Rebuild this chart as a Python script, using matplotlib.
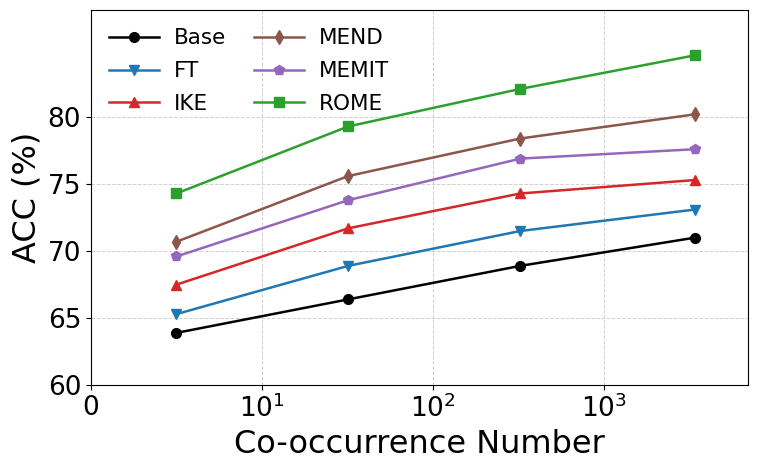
import numpy as np
import matplotlib
matplotlib.use("Agg")
import matplotlib.pyplot as plt

co_occurrence = [5, 32, 325, 3400]

acc_base = [63.9, 66.4, 68.9, 71.0]
acc_ft = [65.3, 68.9, 71.5, 73.1]
acc_ike = [67.5, 71.7, 74.3, 75.3]
acc_mend = [70.7, 75.6, 78.4, 80.2]
acc_memit = [69.6, 73.8, 76.9, 77.6]
acc_rome = [74.3, 79.3, 82.1, 84.6]

yticks = [60, 65, 70, 75, 80]

fig = plt.figure(figsize=(7.58, 4.68), dpi=100)
ax = fig.add_axes([0.12, 0.177, 0.867, 0.802])

series = [
    ("Base", acc_base, "black", "o"),
    ("FT", acc_ft, "tab:blue", "v"),
    ("IKE", acc_ike, "tab:red", "^"),
    ("MEND", acc_mend, "tab:brown", "d"),
    ("MEMIT", acc_memit, "tab:purple", "p"),
    ("ROME", acc_rome, "tab:green", "s"),
]
for name, vals, col, mk in series:
    ax.plot(co_occurrence, vals, color=col, marker=mk, markersize=7, linewidth=1.8, label=name)

# linear part 0..10 takes one decade
ax.set_xscale("symlog", linthresh=10, linscale=0.9)
ax.set_xlim(0, 7000)
ax.set_xticks([0, 10, 100, 1000])
ax.xaxis.set_minor_locator(matplotlib.ticker.NullLocator())
ax.set_ylim(60, 88)
ax.set_yticks(yticks)

ax.grid(True, linestyle="--", color="#d0d0d0", linewidth=0.7)
ax.tick_params(labelsize=19)
ax.set_xlabel("Co-occurrence Number", fontsize=23)
ax.set_ylabel("ACC (%)", fontsize=23)

ax.legend(ncol=2, frameon=False, fontsize=15.5, loc="upper left",
          columnspacing=1.3, handlelength=2.3, handletextpad=0.7,
          labelspacing=0.6, borderaxespad=0.45)

fig.savefig("out.png", dpi=100)
